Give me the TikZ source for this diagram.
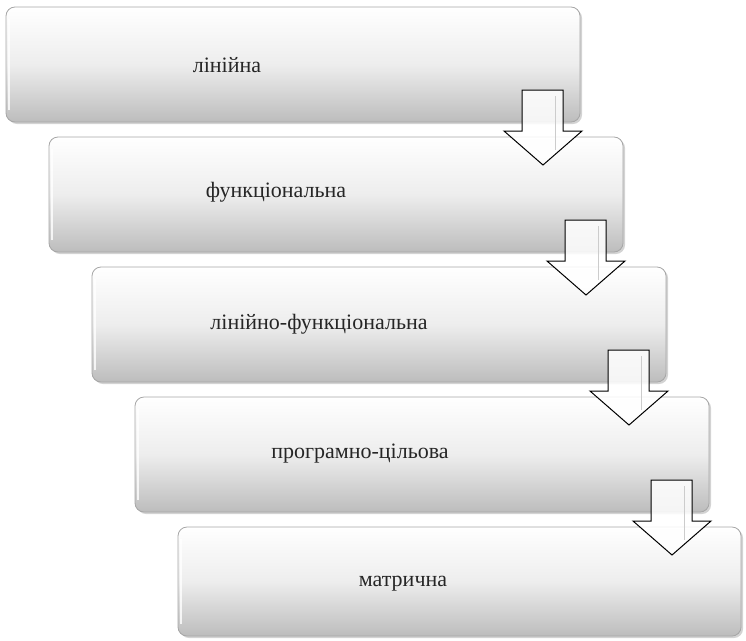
\documentclass[tikz,border=0pt]{standalone}
\usepackage{fontspec}
\setmainfont{Liberation Serif}
\usetikzlibrary{shadows}
\begin{document}
\begin{tikzpicture}[x=1pt,y=-1pt,
  stagebox/.style={draw=gray!70, line width=0.8pt, rounded corners=9pt,
    top color=white, bottom color=gray!52, middle color=gray!14,
    drop shadow={shadow xshift=2pt, shadow yshift=-2pt, opacity=0.35, fill=gray}},
  stagelabel/.style={font=\fontsize{22}{26}\selectfont, inner sep=0pt, text=black!85},
  downarrow/.style={draw=black, line width=1pt, fill=white, fill opacity=0.85, line join=miter}]
\useasboundingbox (0,0) rectangle (746,640);
% boxes
\foreach \i/\r in {0/580,1/623,2/666,3/709,4/741}{
  \pgfmathsetmacro{\L}{6+43*\i}
  \pgfmathsetmacro{\T}{7+130*\i}
  \pgfmathsetmacro{\B}{122+130*\i}
  \ifnum\i=4 \pgfmathsetmacro{\B}{636}\fi
  \path[stagebox] (\L,\T) rectangle (\r,\B);
  \draw[white, line width=1.2pt, opacity=0.8] (\L+3,\T+12) -- (\L+3,\B-12);
  \coordinate (box\i) at (\L,\T);
}
% labels
\node[stagelabel] (t1) at (227,65) {лінійна};
\node[stagelabel] (t2) at (276,192) {функціональна};
\node[stagelabel] (t3) at (319,324) {лінійно-функціональна};
\node[stagelabel] (t4) at (360,454) {програмно-цільова};
\node[stagelabel] (t5) at (403,584) {матрична};
% arrows
\foreach \i in {0,1,2,3}{
  \pgfmathsetmacro{\dx}{43*\i}
  \pgfmathsetmacro{\dy}{130*\i}
  \begin{scope}[shift={(\dx,\dy)}]
    \draw[downarrow] (522,90) -- (563,90) -- (563,131) -- (582,131) -- (543,165)
      -- (504,131) -- (522,131) -- cycle;
    \draw[gray!40, line width=0.8pt] (555,96) -- (555,150);
  \end{scope}
}
\end{tikzpicture}
\end{document}
